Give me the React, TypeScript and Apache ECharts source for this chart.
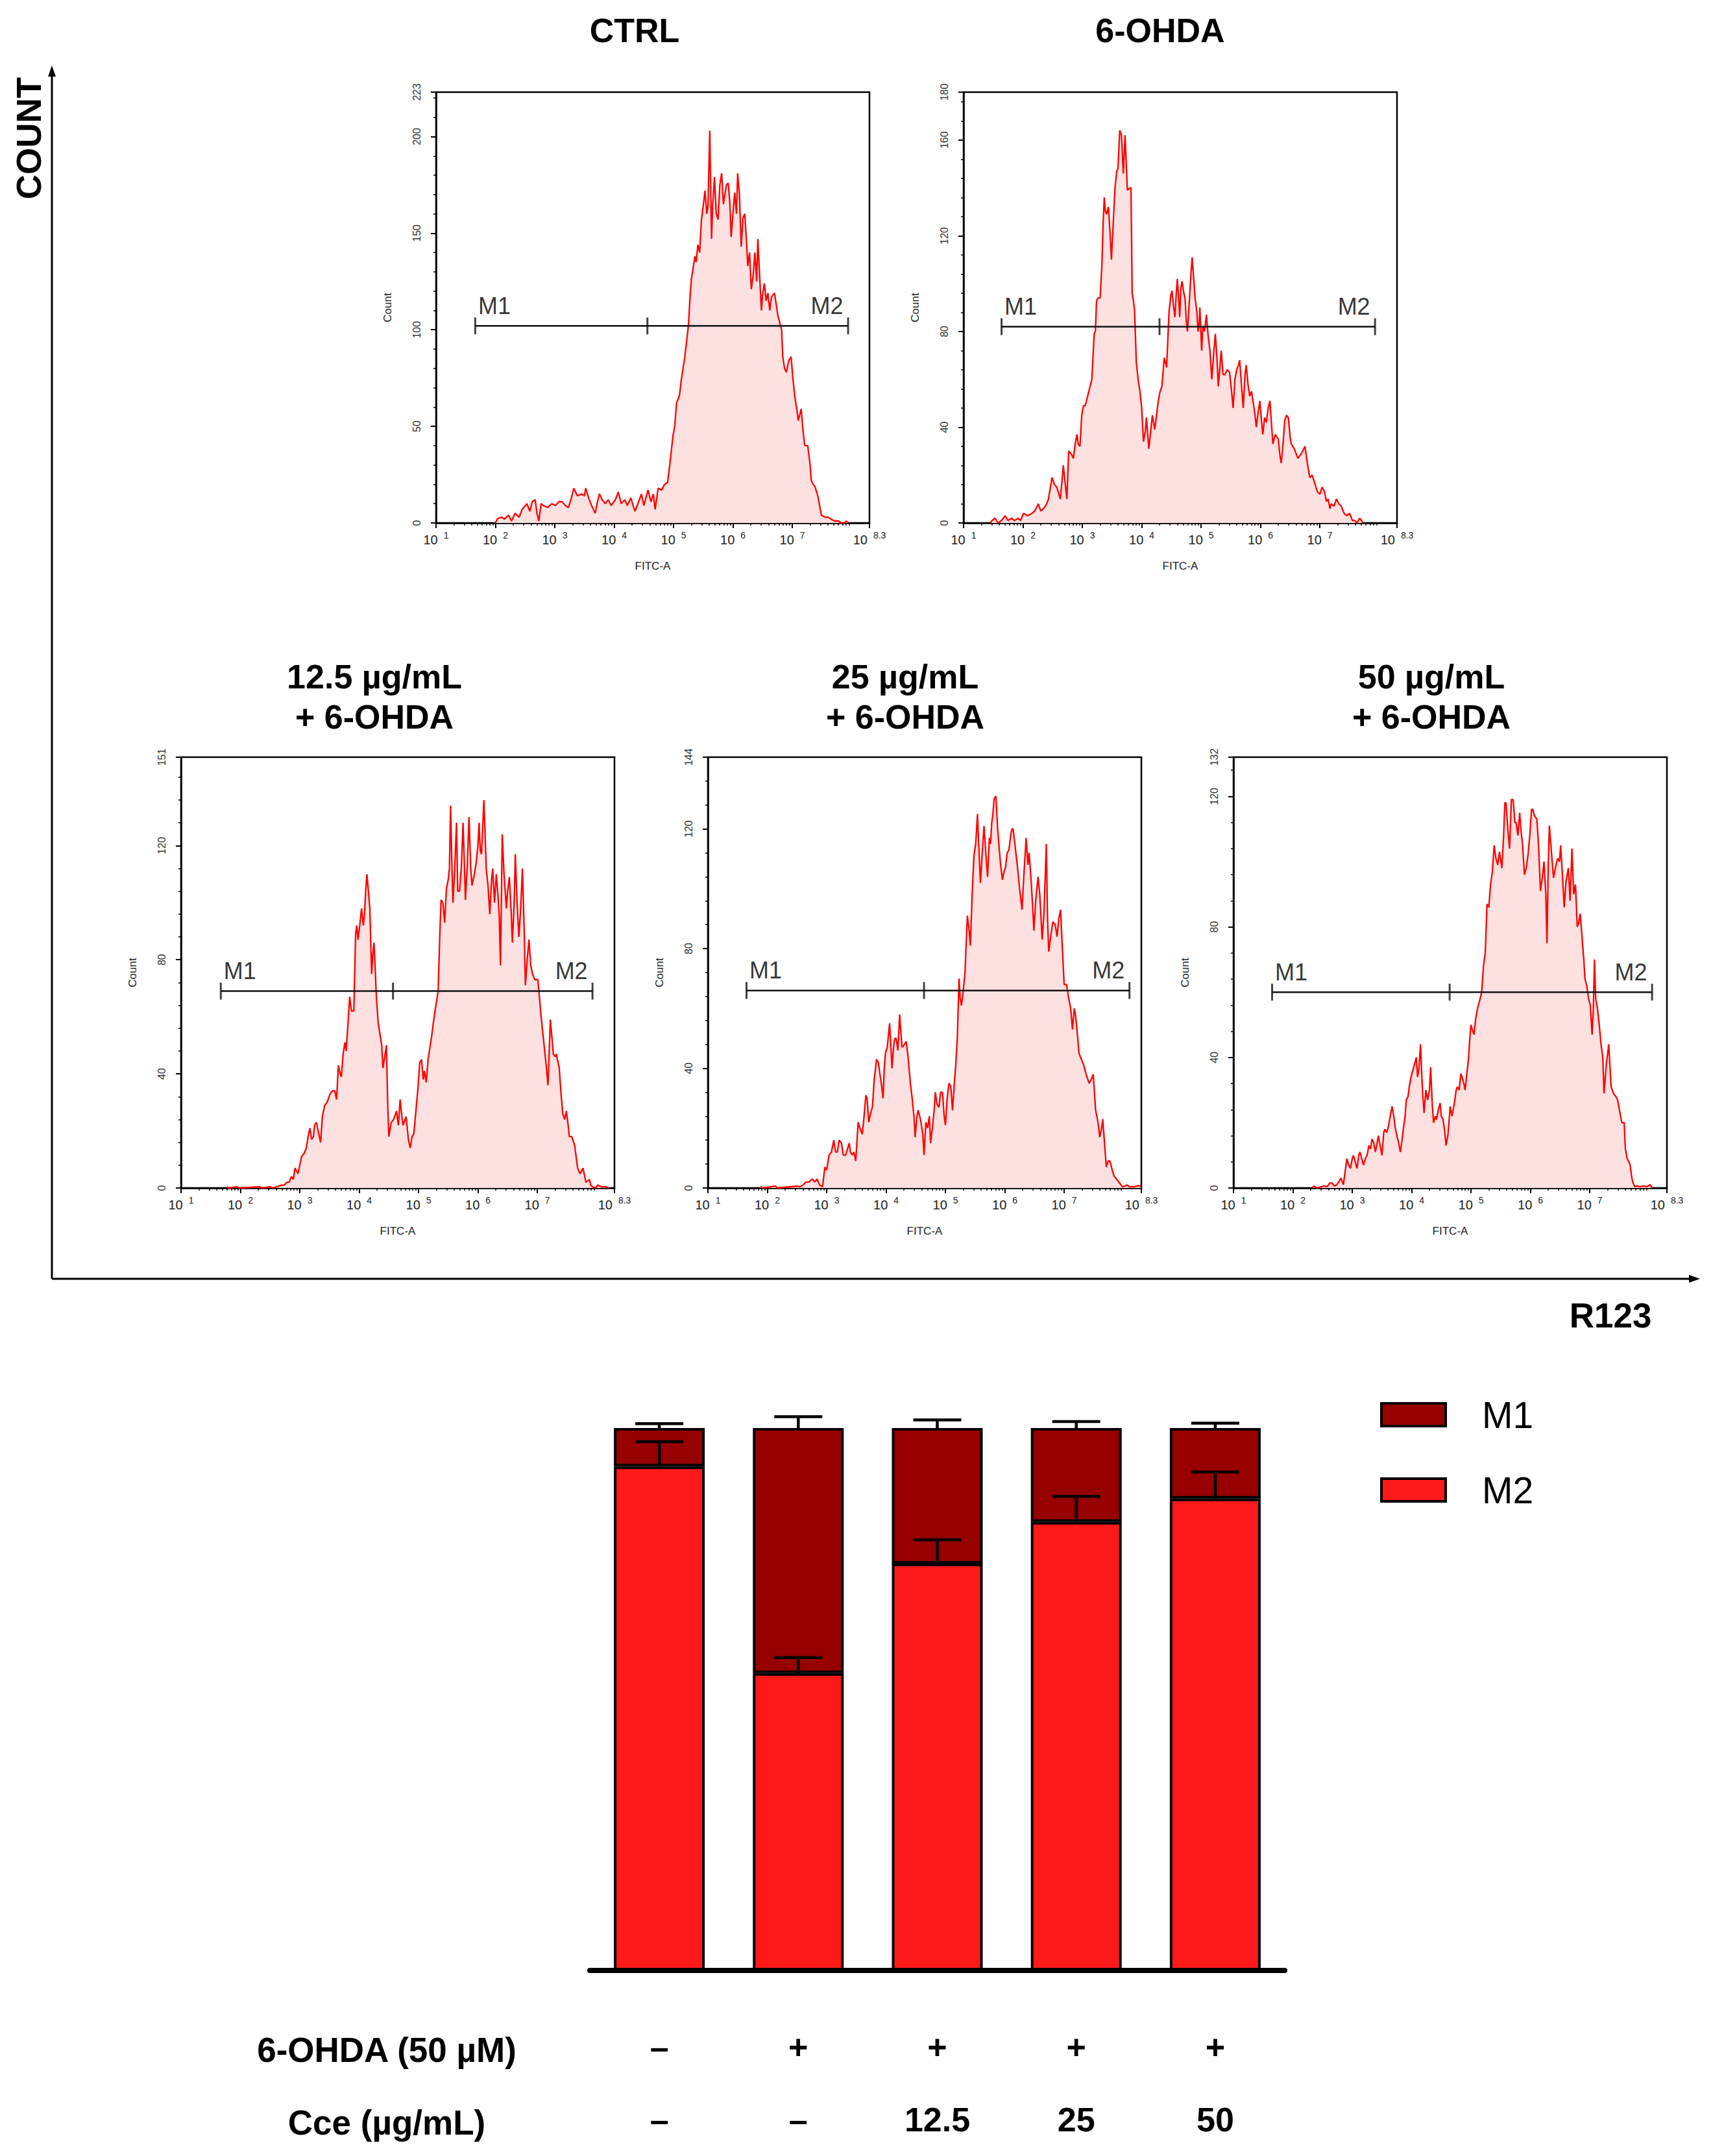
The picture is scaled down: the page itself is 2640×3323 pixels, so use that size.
import React, { useEffect, useRef } from 'react';
import * as echarts from 'echarts';

const FONT = '"Liberation Sans", Arial, Helvetica, sans-serif';

// ---------- Histogram data: [log10(FITC-A), count] ----------
const ctrlCounts: [number, number][] = [[2.0,0],[2.03,2],[2.1,3],[2.15,2],[2.22,4],[2.27,1],[2.33,5],[2.4,3],[2.45,7],[2.53,10],[2.58,6],[2.62,11],[2.67,12],[2.7,5],[2.73,1],[2.77,10],[2.81,9],[2.88,8],[2.95,10],[3.01,9],[3.07,11],[3.12,11],[3.18,9],[3.23,8],[3.28,13],[3.32,18],[3.38,14],[3.45,15],[3.5,14],[3.52,18],[3.57,13],[3.62,9],[3.68,5],[3.72,11],[3.75,15],[3.8,12],[3.85,10],[3.9,12],[3.95,9],[4.02,12],[4.07,16],[4.12,10],[4.18,12],[4.22,9],[4.28,13],[4.35,6],[4.4,10],[4.46,15],[4.5,9],[4.57,17],[4.62,11],[4.66,15],[4.69,7],[4.74,18],[4.8,17],[4.85,20],[4.9,21],[4.94,31],[4.99,45],[5.02,50],[5.05,62],[5.1,66],[5.13,74],[5.19,86],[5.25,102],[5.28,118],[5.3,126],[5.36,138],[5.38,135],[5.41,144],[5.44,140],[5.47,157],[5.5,164],[5.53,172],[5.56,160],[5.58,164],[5.61,203],[5.64,147],[5.66,165],[5.69,179],[5.72,160],[5.75,157],[5.78,175],[5.81,181],[5.84,165],[5.86,169],[5.89,175],[5.92,176],[5.95,165],[5.97,148],[6.0,160],[6.03,171],[6.06,160],[6.08,181],[6.11,170],[6.14,143],[6.17,158],[6.2,160],[6.23,145],[6.25,133],[6.28,140],[6.31,121],[6.34,128],[6.37,140],[6.4,125],[6.42,147],[6.45,128],[6.48,110],[6.5,118],[6.53,124],[6.56,115],[6.59,119],[6.62,110],[6.65,117],[6.7,119],[6.73,113],[6.76,107],[6.82,100],[6.84,86],[6.87,80],[6.9,78],[6.94,84],[6.98,86],[7.01,75],[7.04,66],[7.08,58],[7.1,53],[7.15,59],[7.18,48],[7.21,40],[7.26,40],[7.3,30],[7.32,22],[7.35,20],[7.38,19],[7.43,14],[7.49,4],[7.55,3],[7.6,3],[7.65,2],[7.71,1],[7.78,1],[7.82,0],[7.88,0],[7.91,1],[7.94,0]];

const ohdaCounts: [number, number][] = [[1.45,0],[1.48,1],[1.53,2],[1.58,0],[1.64,1],[1.7,3],[1.75,1],[1.81,2],[1.86,1],[1.92,2],[1.96,1],[2.01,4],[2.08,3],[2.15,4],[2.2,5],[2.26,8],[2.3,5],[2.35,6],[2.4,8],[2.43,10],[2.49,19],[2.53,16],[2.57,15],[2.63,10],[2.68,24],[2.71,17],[2.74,10],[2.77,30],[2.81,29],[2.85,27],[2.88,33],[2.91,37],[2.93,33],[2.96,32],[2.99,45],[3.02,49],[3.05,49],[3.1,54],[3.16,60],[3.2,79],[3.22,80],[3.24,93],[3.27,94],[3.3,94],[3.33,108],[3.35,125],[3.37,136],[3.39,130],[3.41,129],[3.44,132],[3.47,120],[3.49,110],[3.52,125],[3.55,140],[3.58,147],[3.6,148],[3.63,164],[3.66,162],[3.69,146],[3.72,162],[3.74,150],[3.76,139],[3.8,140],[3.82,140],[3.84,96],[3.86,93],[3.88,89],[3.91,67],[3.94,60],[3.97,55],[4.0,48],[4.03,34],[4.06,38],[4.08,44],[4.12,31],[4.15,38],[4.18,45],[4.22,39],[4.25,45],[4.28,51],[4.31,55],[4.34,57],[4.38,69],[4.42,65],[4.46,88],[4.49,95],[4.51,97],[4.54,90],[4.56,86],[4.58,95],[4.6,102],[4.62,95],[4.64,86],[4.66,98],[4.68,101],[4.71,96],[4.73,94],[4.75,85],[4.77,80],[4.79,88],[4.81,96],[4.83,104],[4.85,111],[4.87,104],[4.9,94],[4.93,88],[4.95,80],[4.97,84],[4.98,90],[5.01,72],[5.03,82],[5.06,80],[5.09,87],[5.12,78],[5.15,72],[5.18,60],[5.21,70],[5.24,79],[5.27,68],[5.29,57],[5.32,66],[5.34,72],[5.37,62],[5.4,62],[5.44,64],[5.48,63],[5.51,56],[5.54,48],[5.57,60],[5.6,64],[5.63,66],[5.65,68],[5.68,58],[5.71,48],[5.74,62],[5.76,66],[5.79,58],[5.82,53],[5.85,55],[5.88,50],[5.91,45],[5.93,40],[5.96,46],[5.99,51],[6.02,42],[6.04,37],[6.07,44],[6.1,42],[6.13,48],[6.16,51],[6.19,40],[6.21,33],[6.25,37],[6.3,35],[6.33,28],[6.35,25],[6.38,33],[6.41,43],[6.44,45],[6.47,44],[6.5,36],[6.52,33],[6.57,31],[6.63,27],[6.69,29],[6.75,32],[6.79,25],[6.83,19],[6.87,20],[6.91,17],[6.96,13],[7.0,12],[7.04,15],[7.08,13],[7.11,9],[7.14,10],[7.17,6],[7.19,8],[7.24,7],[7.28,10],[7.32,8],[7.36,7],[7.41,4],[7.45,3],[7.5,4],[7.55,1],[7.59,1],[7.63,0],[7.67,2],[7.73,0]];

const cce12Counts: [number, number][] = [[1.77,0.4],[1.8,0],[1.94,0.4],[1.98,0],[2.33,0.4],[2.36,0],[2.5,0.4],[2.55,0],[2.69,1],[2.74,1],[2.78,2],[2.82,2],[2.86,4],[2.89,3],[2.92,7],[2.97,5],[3.0,8],[3.03,11],[3.07,12],[3.11,14],[3.14,18],[3.17,21],[3.2,17],[3.23,18],[3.25,22],[3.28,23],[3.31,20],[3.35,16],[3.38,25],[3.42,29],[3.46,30],[3.51,33],[3.55,34],[3.59,34],[3.62,31],[3.65,43],[3.68,40],[3.7,39],[3.73,47],[3.76,51],[3.78,48],[3.81,57],[3.84,67],[3.87,62],[3.91,62],[3.94,89],[3.96,92],[3.98,87],[4.01,92],[4.04,98],[4.07,92],[4.09,96],[4.11,104],[4.13,110],[4.16,103],[4.18,98],[4.21,75],[4.23,82],[4.25,86],[4.27,77],[4.29,67],[4.32,58],[4.35,54],[4.38,50],[4.4,42],[4.43,46],[4.46,50],[4.48,30],[4.5,18],[4.54,23],[4.58,24],[4.63,27],[4.66,22],[4.69,31],[4.72,25],[4.74,22],[4.79,25],[4.83,17],[4.86,14],[4.89,18],[4.92,19],[4.96,28],[4.99,35],[5.02,44],[5.05,45],[5.08,38],[5.1,41],[5.13,37],[5.16,45],[5.19,49],[5.22,53],[5.25,58],[5.27,61],[5.3,65],[5.33,69],[5.36,90],[5.38,101],[5.41,100],[5.44,93],[5.47,105],[5.5,108],[5.52,112],[5.54,134],[5.56,115],[5.58,100],[5.61,112],[5.64,128],[5.66,104],[5.69,104],[5.72,112],[5.75,128],[5.77,115],[5.79,101],[5.82,113],[5.85,130],[5.88,112],[5.9,106],[5.94,110],[5.97,114],[6.0,120],[6.02,128],[6.04,118],[6.06,117],[6.08,126],[6.1,136],[6.12,125],[6.14,112],[6.17,106],[6.2,96],[6.23,108],[6.25,112],[6.28,100],[6.31,110],[6.34,102],[6.36,95],[6.38,78],[6.41,124],[6.44,110],[6.48,98],[6.5,104],[6.53,109],[6.56,97],[6.58,86],[6.61,100],[6.63,117],[6.66,100],[6.69,88],[6.72,98],[6.75,112],[6.78,90],[6.8,71],[6.83,80],[6.86,87],[6.89,78],[6.92,75],[6.96,73],[7.01,73],[7.04,66],[7.06,61],[7.09,55],[7.12,49],[7.15,43],[7.18,36],[7.22,59],[7.25,52],[7.27,47],[7.3,46],[7.32,47],[7.35,44],[7.37,42],[7.4,33],[7.43,26],[7.46,24],[7.49,27],[7.52,22],[7.54,18],[7.58,18],[7.63,15],[7.66,10],[7.68,7],[7.72,5],[7.77,7],[7.8,4],[7.82,2],[7.88,3],[7.9,1],[7.93,0.4],[7.98,0],[8.02,1],[8.08,0.4],[8.16,0.4],[8.2,0]];

const cce25Counts: [number, number][] = [[1.89,0.6],[1.92,0],[2.14,0.6],[2.17,0],[2.5,0.6],[2.55,0.4],[2.6,1],[2.65,2],[2.7,2],[2.76,3],[2.8,2],[2.84,3],[2.88,1],[2.93,0.4],[2.97,7],[3.0,6],[3.04,11],[3.08,12],[3.12,16],[3.15,12],[3.18,12],[3.21,16],[3.25,15],[3.28,11],[3.32,11],[3.35,13],[3.38,15],[3.4,12],[3.43,11],[3.46,12],[3.49,9],[3.53,22],[3.56,20],[3.6,18],[3.63,24],[3.66,31],[3.68,30],[3.71,22],[3.74,25],[3.77,27],[3.8,36],[3.84,43],[3.87,42],[3.89,39],[3.92,35],[3.95,30],[3.97,40],[3.99,45],[4.02,47],[4.06,55],[4.08,48],[4.1,40],[4.13,48],[4.15,50],[4.17,50],[4.2,46],[4.23,58],[4.25,52],[4.27,47],[4.31,48],[4.34,49],[4.37,44],[4.41,35],[4.44,30],[4.47,24],[4.49,17],[4.52,24],[4.54,26],[4.58,23],[4.62,18],[4.64,11],[4.67,22],[4.7,20],[4.73,24],[4.75,15],[4.78,20],[4.81,26],[4.83,32],[4.86,28],[4.89,27],[4.92,32],[4.95,32],[4.98,24],[5.0,21],[5.03,30],[5.06,35],[5.09,34],[5.12,26],[5.15,35],[5.17,40],[5.2,50],[5.23,70],[5.25,63],[5.27,61],[5.3,66],[5.33,72],[5.35,82],[5.37,91],[5.4,86],[5.42,81],[5.45,98],[5.48,111],[5.51,115],[5.54,125],[5.56,115],[5.59,102],[5.62,112],[5.65,121],[5.68,112],[5.71,104],[5.74,117],[5.76,115],[5.78,122],[5.8,125],[5.82,130],[5.85,131],[5.88,120],[5.9,115],[5.93,108],[5.96,103],[5.99,106],[6.01,107],[6.04,112],[6.07,113],[6.1,118],[6.12,120],[6.14,120],[6.17,115],[6.21,108],[6.25,100],[6.29,93],[6.32,104],[6.36,117],[6.39,108],[6.41,112],[6.44,104],[6.47,94],[6.49,86],[6.52,96],[6.56,104],[6.59,98],[6.63,83],[6.66,92],[6.7,115],[6.72,90],[6.74,79],[6.78,85],[6.81,89],[6.85,88],[6.88,84],[6.91,90],[6.94,93],[6.97,80],[7.0,68],[7.04,68],[7.08,63],[7.11,60],[7.14,53],[7.17,60],[7.19,58],[7.22,52],[7.25,45],[7.29,43],[7.33,41],[7.37,38],[7.42,35],[7.45,36],[7.49,38],[7.53,26],[7.57,22],[7.6,17],[7.63,20],[7.65,23],[7.68,15],[7.71,7],[7.74,9],[7.77,9],[7.81,6],[7.84,4],[7.88,3],[7.92,2],[7.98,0.4],[8.02,0.6],[8.06,1],[8.1,0.4],[8.18,0.4],[8.25,0.8],[8.29,0.6]];

const cce50Counts: [number, number][] = [[2.33,0],[2.35,0.6],[2.4,0],[2.49,0.4],[2.52,0.6],[2.58,0.4],[2.62,1.5],[2.66,1.5],[2.7,0.6],[2.74,1],[2.78,2],[2.81,3],[2.85,1],[2.88,5],[2.91,9],[2.94,7],[2.97,6],[3.0,9],[3.02,10],[3.05,8],[3.08,6],[3.11,10],[3.13,11],[3.16,9],[3.19,7],[3.22,9],[3.25,10],[3.28,13],[3.31,12],[3.33,15],[3.36,14],[3.39,11],[3.42,14],[3.44,16],[3.47,13],[3.5,10],[3.53,17],[3.55,18],[3.58,17],[3.61,19],[3.64,22],[3.67,25],[3.7,22],[3.72,19],[3.74,17],[3.78,14],[3.81,11],[3.84,15],[3.86,18],[3.89,22],[3.91,27],[3.94,28],[3.96,31],[3.99,34],[4.02,36],[4.05,38],[4.08,40],[4.1,34],[4.12,36],[4.15,44],[4.17,35],[4.19,28],[4.21,23],[4.24,30],[4.27,27],[4.3,30],[4.32,37],[4.35,25],[4.37,20],[4.4,22],[4.42,21],[4.45,24],[4.48,26],[4.5,22],[4.53,21],[4.56,17],[4.58,13],[4.61,16],[4.65,25],[4.68,22],[4.72,26],[4.75,30],[4.77,31],[4.8,30],[4.83,35],[4.85,34],[4.88,32],[4.9,30],[4.93,35],[4.96,40],[4.98,46],[5.0,50],[5.03,48],[5.05,47],[5.08,52],[5.11,55],[5.14,57],[5.18,60],[5.21,68],[5.24,72],[5.27,87],[5.3,86],[5.33,93],[5.36,97],[5.39,105],[5.42,101],[5.45,99],[5.48,103],[5.52,98],[5.55,108],[5.57,118],[5.59,118],[5.62,110],[5.65,104],[5.68,119],[5.71,119],[5.74,112],[5.76,112],[5.79,108],[5.82,115],[5.84,110],[5.87,105],[5.9,96],[5.93,98],[5.96,102],[5.99,108],[6.02,116],[6.04,116],[6.07,114],[6.11,113],[6.14,104],[6.17,91],[6.2,95],[6.23,100],[6.26,90],[6.28,75],[6.3,98],[6.32,111],[6.35,104],[6.39,95],[6.42,98],[6.46,101],[6.49,100],[6.51,105],[6.54,96],[6.57,86],[6.6,94],[6.64,98],[6.67,88],[6.7,104],[6.73,90],[6.76,93],[6.79,80],[6.81,81],[6.84,84],[6.87,77],[6.9,70],[6.92,64],[6.95,62],[6.98,58],[7.01,56],[7.04,47],[7.06,55],[7.08,70],[7.1,58],[7.13,55],[7.16,50],[7.19,44],[7.22,40],[7.24,29],[7.28,38],[7.32,44],[7.36,31],[7.4,29],[7.44,28],[7.47,27],[7.5,24],[7.54,20],[7.58,20],[7.6,12],[7.63,9],[7.66,8],[7.68,7],[7.71,3],[7.73,1.5],[7.76,0.4],[7.79,0.6],[7.85,0.4],[7.91,0.6],[7.96,0.4],[8.02,1],[8.05,0]];

const histTitles = ['CTRL', '6-OHDA', '12.5 µg/mL\n+ 6-OHDA', '25 µg/mL\n+ 6-OHDA', '50 µg/mL\n+ 6-OHDA'];
const histYMax = [223, 180, 151, 144, 132];
const histYLabels = [
  [0, 50, 100, 150, 200, 223],
  [0, 40, 80, 120, 160, 180],
  [0, 40, 80, 120, 151],
  [0, 40, 80, 120, 144],
  [0, 40, 80, 120, 132],
];
const histYMinorStep = [10, 8, 8, 8, 8];
const xExponents = [1, 2, 3, 4, 5, 6, 7, 8.3];
// Marker gates: count level and [M1 start, M1/M2 split, M2 end] in log10 units
const gateLevels = [102, 82, 69, 66, 60];
const gateBounds = [
  [1.66, 4.56, 7.94],
  [1.64, 4.30, 7.93],
  [1.67, 4.57, 7.93],
  [1.65, 4.64, 8.10],
  [1.65, 4.64, 8.05],
];

// ---------- Stacked bar data (% of cells) ----------
const groupIds = ['CTRL', '6-OHDA', 'Cce 12.5', 'Cce 25', 'Cce 50'];
const ohdaRow = ['–', '+', '+', '+', '+'];
const cceRow = ['–', '–', '12.5', '25', '50'];
const m2Mean = [92.9, 54.8, 75.0, 82.7, 87.0];
const m1Mean = [7.1, 45.2, 25.0, 17.3, 13.0];
const m2Err = [4.6, 2.9, 4.4, 4.7, 4.9];
const m1Err = [0.8, 2.1, 1.5, 1.2, 0.9];

const histData = [ctrlCounts, ohdaCounts, cce12Counts, cce25Counts, cce50Counts];

// layout
const histPos = [
  { left: 672, top: 142 },
  { left: 1485, top: 142 },
  { left: 279, top: 1167 },
  { left: 1091, top: 1167 },
  { left: 1901, top: 1167 },
];
const HW = 668;
const HH = 664;
const titlePos = [[978, 47], [1788, 47], [577, 1074], [1395, 1074], [2206, 1074]];

function buildOption() {
  const grid: any[] = [];
  const xAxis: any[] = [];
  const yAxis: any[] = [];
  const series: any[] = [];

  const xMinor: number[] = [];
  for (let d = 1; d <= 8; d++) {
    for (let k = 2; k <= 9; k++) {
      const v = d + Math.log10(k);
      if (v < 8.3) xMinor.push(v);
    }
  }

  histData.forEach((hist, i) => {
    const pos = histPos[i];
    grid.push({
      left: pos.left, top: pos.top, width: HW, height: HH,
      show: true, borderColor: '#000', borderWidth: 2.5, backgroundColor: '#fff',
    });
    const yMinor: number[] = [];
    for (let v = histYMinorStep[i]; v < histYMax[i]; v += histYMinorStep[i]) {
      if (histYLabels[i].indexOf(v) < 0) yMinor.push(v);
    }
    xAxis.push({
      gridIndex: i, type: 'value', min: 1, max: 8.3, position: 'bottom',
      name: 'FITC-A', nameLocation: 'middle', nameGap: 58,
      nameTextStyle: { fontFamily: FONT, fontSize: 17, color: '#222' },
      axisLine: { show: true, onZero: false, lineStyle: { color: '#000', width: 2.5 } },
      axisTick: { show: true, customValues: xExponents, length: 8, lineStyle: { color: '#000', width: 2 } },
      axisLabel: {
        show: true, customValues: xExponents, margin: 12, color: '#222', fontFamily: FONT,
        formatter: (v: number) => `{b|10}{s|${v}}`,
        rich: {
          b: { fontSize: 20, lineHeight: 28, fontFamily: FONT, color: '#222' },
          s: { fontSize: 14, verticalAlign: 'top', padding: [0, 0, 0, 9], fontFamily: FONT, color: '#222' },
        },
      },
      splitLine: { show: false },
    });
    xAxis.push({
      gridIndex: i, type: 'value', min: 1, max: 8.3, position: 'bottom',
      axisLine: { show: false },
      axisTick: { show: true, customValues: xMinor, length: 4, lineStyle: { color: '#000', width: 1.5 } },
      axisLabel: { show: false },
      splitLine: { show: false },
    });
    yAxis.push({
      gridIndex: i, type: 'value', min: 0, max: histYMax[i], position: 'left',
      name: 'Count', nameLocation: 'middle', nameGap: 66, nameRotate: 90,
      nameTextStyle: { fontFamily: FONT, fontSize: 17, color: '#222' },
      axisLine: { show: true, onZero: false, lineStyle: { color: '#000', width: 2.5 } },
      axisTick: { show: true, customValues: histYLabels[i], length: 8, lineStyle: { color: '#000', width: 2 } },
      axisLabel: { show: true, customValues: histYLabels[i], rotate: 90, margin: 22, fontSize: 16, color: '#333', fontFamily: FONT },
      splitLine: { show: false },
    });
    yAxis.push({
      gridIndex: i, type: 'value', min: 0, max: histYMax[i], position: 'left',
      axisLine: { show: false },
      axisTick: { show: true, customValues: yMinor, length: 4, lineStyle: { color: '#000', width: 1.5 } },
      axisLabel: { show: false },
      splitLine: { show: false },
    });

    series.push({
      type: 'line', xAxisIndex: 2 * i, yAxisIndex: 2 * i, data: hist,
      symbol: 'none', showSymbol: false, silent: true,
      lineStyle: { color: '#ff0000', width: 2.3 },
      areaStyle: { color: '#fde1e1', opacity: 1 },
      z: 2,
    });
    const g = gateLevels[i];
    const b = gateBounds[i];
    series.push({
      type: 'line', xAxisIndex: 2 * i, yAxisIndex: 2 * i,
      data: [[b[0], g], [b[2], g]], symbol: 'none', silent: true,
      lineStyle: { color: '#111', width: 2.5 }, z: 5,
    });
    series.push({
      type: 'scatter', xAxisIndex: 2 * i, yAxisIndex: 2 * i, silent: true,
      symbol: 'rect', symbolSize: [3, 26], itemStyle: { color: '#111' }, z: 6,
      label: { fontFamily: FONT, fontSize: 36, color: '#000' },
      data: [
        { value: [b[0], g], label: { show: true, formatter: 'M1', position: [6, 0], align: 'left', verticalAlign: 'bottom' } },
        { value: [b[1], g] },
        { value: [b[2], g], label: { show: true, formatter: 'M2', position: [-6, 0], align: 'right', verticalAlign: 'bottom' } },
      ],
    });
  });

  // ---- stacked bar chart ----
  const bi = histData.length;
  grid.push({ left: 909, top: 2201, width: 1071, height: 837 });
  xAxis.push({
    gridIndex: bi, type: 'category', data: groupIds,
    axisLine: { show: true, lineStyle: { color: '#000', width: 8, cap: 'round' } },
    axisTick: { show: false },
    axisLabel: {
      show: true, interval: 0, margin: 62, color: '#000', fontFamily: FONT,
      fontSize: 52, fontWeight: 'bold', lineHeight: 112,
      formatter: (_v: string, idx: number) => `${ohdaRow[idx]}\n${cceRow[idx]}`,
    },
    splitLine: { show: false },
  });
  yAxis.push({ gridIndex: bi, type: 'value', min: 0, max: 100, show: false, splitLine: { show: false } });

  series.push({
    name: 'M2', type: 'bar', stack: 'total', xAxisIndex: 2 * bi, yAxisIndex: 2 * bi,
    data: m2Mean, barWidth: 140,
    itemStyle: { color: '#ff1a1a', borderColor: '#000', borderWidth: 4 }, z: 3,
  });
  series.push({
    name: 'M1', type: 'bar', stack: 'total', xAxisIndex: 2 * bi, yAxisIndex: 2 * bi,
    data: m1Mean, barWidth: 140,
    itemStyle: { color: '#960000', borderColor: '#000', borderWidth: 4 }, z: 3,
  });
  const errRender = (_p: any, api: any) => {
    const x = api.value(0);
    const base = api.value(1);
    const err = api.value(2);
    const p0 = api.coord([x, base]);
    const p1 = api.coord([x, base + err]);
    const half = 37;
    const st = { stroke: '#000', lineWidth: 4.5 };
    return {
      type: 'group',
      children: [
        { type: 'line', shape: { x1: p0[0], y1: p0[1], x2: p1[0], y2: p1[1] }, style: st },
        { type: 'line', shape: { x1: p1[0] - half, y1: p1[1], x2: p1[0] + half, y2: p1[1] }, style: st },
      ],
    };
  };
  series.push({
    type: 'custom', xAxisIndex: 2 * bi, yAxisIndex: 2 * bi, silent: true, z: 10, clip: false,
    data: m2Mean.map((m, i) => [i, m, m2Err[i]]), renderItem: errRender,
  });
  series.push({
    type: 'custom', xAxisIndex: 2 * bi, yAxisIndex: 2 * bi, silent: true, z: 10, clip: false,
    data: m2Mean.map((m, i) => [i, m + m1Mean[i], m1Err[i]]), renderItem: errRender,
  });

  const graphic: any[] = [];
  histTitles.forEach((t, i) => {
    graphic.push({
      type: 'text', x: titlePos[i][0], y: titlePos[i][1],
      style: {
        text: t, fill: '#000', fontFamily: FONT, fontSize: 52, fontWeight: 'bold', lineHeight: 62,
        align: 'center', verticalAlign: 'middle', textAlign: 'center', textVerticalAlign: 'middle',
      },
    });
  });
  // Global axes with arrows
  graphic.push({ type: 'line', shape: { x1: 80, y1: 1971, x2: 80, y2: 112 }, style: { stroke: '#000', lineWidth: 3 } });
  graphic.push({ type: 'polygon', shape: { points: [[80, 101], [74, 118], [86, 118]] }, style: { fill: '#000' } });
  graphic.push({ type: 'line', shape: { x1: 80, y1: 1971, x2: 2606, y2: 1971 }, style: { stroke: '#000', lineWidth: 3 } });
  graphic.push({ type: 'polygon', shape: { points: [[2620, 1971], [2603, 1965], [2603, 1977]] }, style: { fill: '#000' } });
  graphic.push({
    type: 'text', x: 44, y: 213, rotation: Math.PI / 2,
    style: {
      text: 'COUNT', fill: '#000', fontFamily: FONT, fontSize: 53, fontWeight: 'bold',
      align: 'center', verticalAlign: 'middle', textAlign: 'center', textVerticalAlign: 'middle',
    },
  });
  graphic.push({
    type: 'text', x: 2482, y: 2027,
    style: {
      text: 'R123', fill: '#000', fontFamily: FONT, fontSize: 53, fontWeight: 'bold',
      align: 'center', verticalAlign: 'middle', textAlign: 'center', textVerticalAlign: 'middle',
    },
  });
  graphic.push({
    type: 'text', x: 596, y: 3159,
    style: {
      text: '6-OHDA (50 µM)', fill: '#000', fontFamily: FONT, fontSize: 53, fontWeight: 'bold',
      align: 'center', verticalAlign: 'middle', textAlign: 'center', textVerticalAlign: 'middle',
    },
  });
  graphic.push({
    type: 'text', x: 596, y: 3271,
    style: {
      text: 'Cce (µg/mL)', fill: '#000', fontFamily: FONT, fontSize: 53, fontWeight: 'bold',
      align: 'center', verticalAlign: 'middle', textAlign: 'center', textVerticalAlign: 'middle',
    },
  });

  return {
    animation: false,
    backgroundColor: '#fff',
    grid, xAxis, yAxis, series,
    legend: {
      data: ['M1', 'M2'], orient: 'vertical', left: 2127, top: 2152, padding: 0,
      itemWidth: 99, itemHeight: 35, itemGap: 59, icon: 'rect',
      itemStyle: { borderColor: '#000', borderWidth: 4 },
      textStyle: { fontFamily: FONT, fontSize: 57, lineHeight: 35, color: '#000', padding: [0, 0, 0, 51] },
      selectedMode: false,
    },
    graphic: { elements: graphic },
  };
}

export default function App() {
  const ref = useRef<HTMLDivElement>(null);
  useEffect(() => {
    document.body.style.margin = '0';
    if (!ref.current) return;
    const chart = echarts.init(ref.current, undefined, { renderer: 'svg' });
    chart.setOption(buildOption() as any);
    return () => chart.dispose();
  }, []);
  return (
    <div
      ref={ref}
      style={{ position: 'absolute', left: 0, top: 0, width: 2640, height: 3323, background: '#fff' }}
    />
  );
}
